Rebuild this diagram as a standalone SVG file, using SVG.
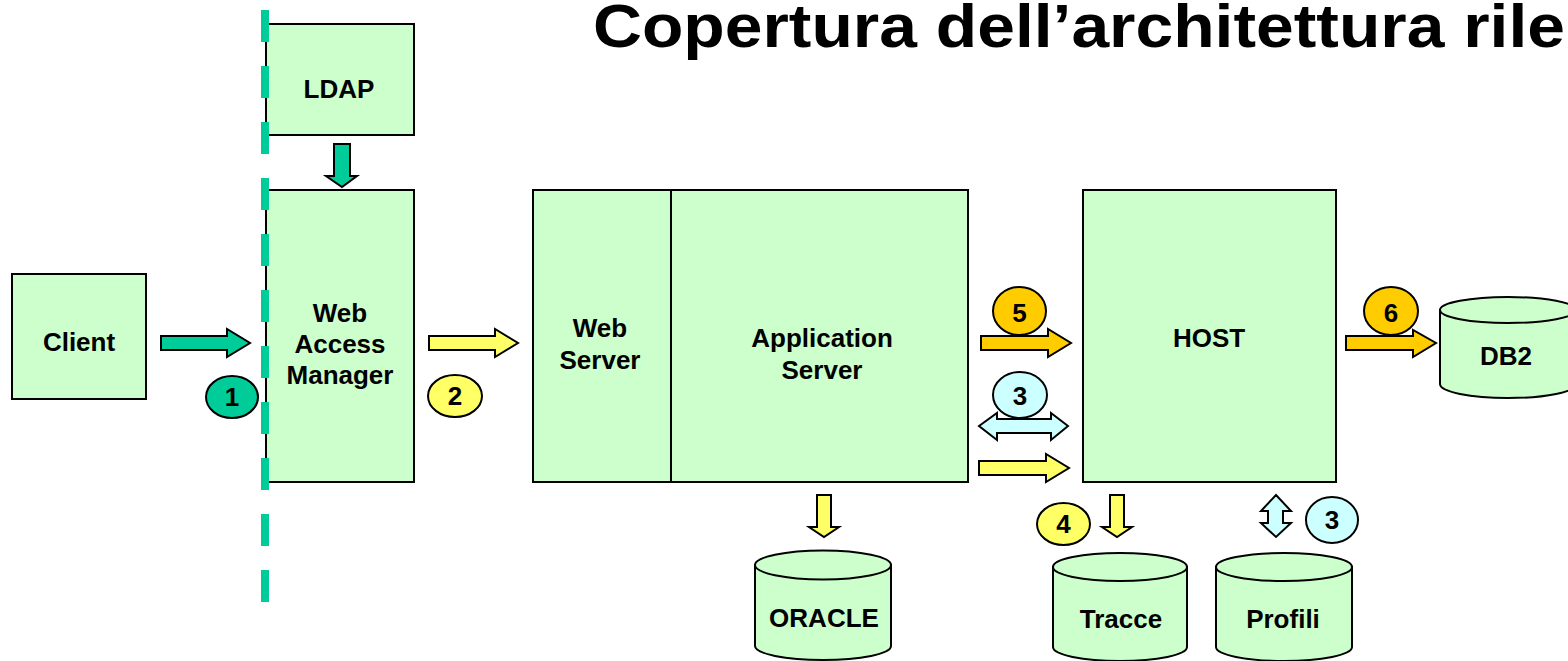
<svg xmlns="http://www.w3.org/2000/svg" width="1568" height="661" viewBox="0 0 1568 661">
  <style>
    text { font-family: "Liberation Sans", Arial, sans-serif; font-weight: bold; fill: #000; }
    .lbl { font-size: 26px; text-anchor: middle; }
    .num { font-size: 26px; text-anchor: middle; }
    .box { fill: #CCFFCC; stroke: #000; stroke-width: 2; }
    .arr { stroke: #000; stroke-width: 2; stroke-linejoin: miter; }
    .green { fill: #00CC99; }
    .yellow { fill: #FFFF66; }
    .orange { fill: #FFCC00; }
    .cyan { fill: #CCFFFF; }
    .badge { stroke: #000; stroke-width: 2; }
  </style>

  <!-- title -->
  <text x="593" y="47" font-size="61" textLength="972" lengthAdjust="spacingAndGlyphs">Copertura dell’architettura rile</text>

  <!-- nodes -->
  <g id="client">
    <rect class="box" x="12" y="274" width="134" height="125"/>
    <text class="lbl" x="79" y="351">Client</text>
  </g>

  <g id="ldap">
    <rect class="box" x="266" y="24" width="148" height="111"/>
    <text class="lbl" x="339" y="98">LDAP</text>
  </g>

  <g id="web-access-manager">
    <rect class="box" x="266" y="190" width="148" height="292"/>
    <text class="lbl" x="340" y="322">Web</text>
    <text class="lbl" x="340" y="353">Access</text>
    <text class="lbl" x="340" y="384">Manager</text>
  </g>

  <g id="web-app-server">
    <rect class="box" x="533" y="190" width="435" height="292"/>
    <line x1="671" y1="190" x2="671" y2="482" stroke="#000" stroke-width="2"/>
    <text class="lbl" x="600" y="337">Web</text>
    <text class="lbl" x="600" y="369">Server</text>
    <text class="lbl" x="822" y="347">Application</text>
    <text class="lbl" x="822" y="379">Server</text>
  </g>

  <g id="host">
    <rect class="box" x="1083" y="190" width="253" height="292"/>
    <text class="lbl" x="1209" y="347">HOST</text>
  </g>

  <g id="db2">
    <path class="box" d="M1440,310 V384 A68,14 0 0 0 1576,384 V310 Z"/>
    <ellipse class="box" cx="1508" cy="310" rx="68" ry="13"/>
    <text class="lbl" x="1506" y="365">DB2</text>
  </g>

  <g id="oracle">
    <path class="box" d="M755,565 V646 A68,14 0 0 0 891,646 V565 Z"/>
    <ellipse class="box" cx="823" cy="565" rx="68" ry="14.5"/>
    <text class="lbl" x="824" y="627">ORACLE</text>
  </g>

  <g id="tracce">
    <path class="box" d="M1053,567 V647 A67,14 0 0 0 1187,647 V567 Z"/>
    <ellipse class="box" cx="1120" cy="567" rx="67" ry="14"/>
    <text class="lbl" x="1121" y="628">Tracce</text>
  </g>

  <g id="profili">
    <path class="box" d="M1216,567 V647 A68,14 0 0 0 1352,647 V567 Z"/>
    <ellipse class="box" cx="1284" cy="567" rx="68" ry="14"/>
    <text class="lbl" x="1283" y="628">Profili</text>
  </g>

  <!-- security boundary -->
  <g id="boundary">
    <line x1="265" y1="10" x2="265" y2="602" stroke="#00CC99" stroke-width="8" stroke-dasharray="32 24"/>
  </g>

  <!-- connectors -->
  <g id="connectors">
    <polygon class="arr green" points="334,144 350,144 350,176 357,176 342,187 326,176 334,176"/>
    <polygon class="arr green" points="161,336 227,336 227,329 250,343 227,357 227,350 161,350"/>
    <polygon class="arr yellow" points="429,336 495,336 495,329 518,343 495,357 495,350 429,350"/>
    <polygon class="arr orange" points="981,336 1048,336 1048,329 1071,343 1048,357 1048,350 981,350"/>
    <polygon class="arr cyan" points="979,426 997,413 997,419 1051,419 1051,413 1068,426 1051,440 1051,433 997,433 997,440"/>
    <polygon class="arr yellow" points="979,461 1046,461 1046,454 1069,468 1046,482 1046,475 979,475"/>
    <polygon class="arr orange" points="1346,336 1413,336 1413,330 1436,343 1413,357 1413,350 1346,350"/>
    <polygon class="arr yellow" points="817,495 831,495 831,527 839,527 824,537 809,527 817,527"/>
    <polygon class="arr yellow" points="1110,495 1124,495 1124,527 1132,527 1117,537 1102,527 1110,527"/>
    <polygon class="arr cyan" points="1276,495 1291,511 1283,511 1283,523 1291,523 1276,537 1261,523 1268,523 1268,511 1261,511"/>
  </g>

  <!-- step badges -->
  <g id="step-1">
    <ellipse class="badge green" cx="232" cy="397" rx="26" ry="21"/>
    <text class="num" x="232" y="406">1</text>
  </g>
  <g id="step-2">
    <ellipse class="badge yellow" cx="455" cy="396" rx="27" ry="21"/>
    <text class="num" x="455" y="405">2</text>
  </g>
  <g id="step-5">
    <ellipse class="badge orange" cx="1019.5" cy="311" rx="26.5" ry="24"/>
    <text class="num" x="1019.5" y="322">5</text>
  </g>
  <g id="step-3a">
    <ellipse class="badge cyan" cx="1020" cy="395" rx="27" ry="23"/>
    <text class="num" x="1020" y="405">3</text>
  </g>
  <g id="step-6">
    <ellipse class="badge orange" cx="1391" cy="311" rx="27" ry="24"/>
    <text class="num" x="1391" y="322">6</text>
  </g>
  <g id="step-4">
    <ellipse class="badge yellow" cx="1063.5" cy="524" rx="26.5" ry="21"/>
    <text class="num" x="1063.5" y="533">4</text>
  </g>
  <g id="step-3b">
    <ellipse class="badge cyan" cx="1332" cy="520" rx="26" ry="23"/>
    <text class="num" x="1332" y="529">3</text>
  </g>
</svg>
